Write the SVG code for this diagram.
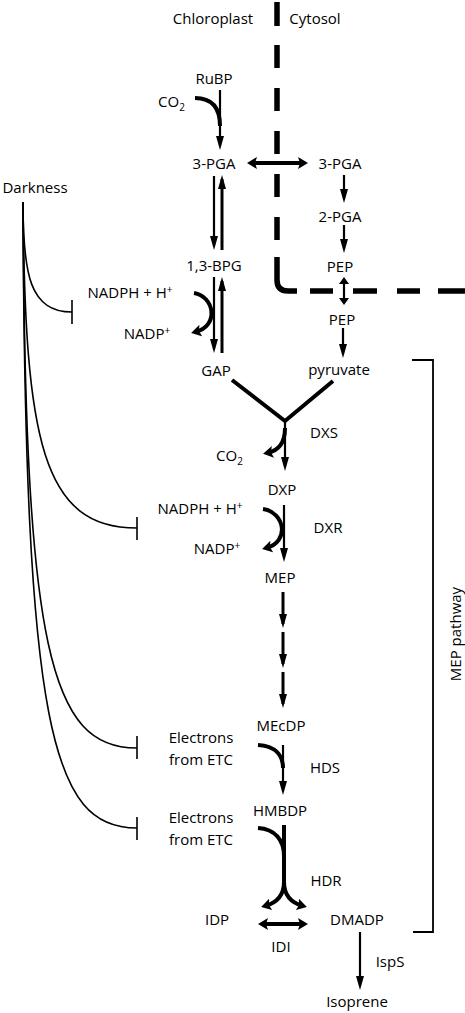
<svg xmlns="http://www.w3.org/2000/svg" width="465" height="1013" viewBox="0 0 465 1013">
<style>
text{font-family:"Open Sans","Noto Sans","Liberation Sans",sans-serif;font-size:15px;fill:#000}
.m{text-anchor:middle}
.sup{font-size:10px}
.ln{fill:none;stroke:#000;stroke-linecap:butt}
.t2{stroke-width:2.2}
.t3{stroke-width:3}
.t4{stroke-width:4}
.inh{fill:none;stroke:#000;stroke-width:1.6}
.mem{fill:none;stroke:#000;stroke-width:5.5}
</style>
<defs>
<marker id="a" viewBox="0 0 14 8" refX="10" refY="4" markerWidth="14" markerHeight="8" markerUnits="userSpaceOnUse" orient="auto-start-reverse"><path d="M0,0 L14,4 L0,8 z"/></marker>
<marker id="w" viewBox="0 0 10 12" refX="6" refY="6" markerWidth="10" markerHeight="12" markerUnits="userSpaceOnUse" orient="auto-start-reverse"><path d="M0,0 L10,6 L0,12 L2,6 z"/></marker>
<marker id="s" viewBox="0 0 7 10" refX="4" refY="5" markerWidth="7" markerHeight="10" markerUnits="userSpaceOnUse" orient="auto-start-reverse"><path d="M0,0 L7,5 L0,10 z"/></marker>
</defs>

<g id="membrane">
<path class="mem" d="M277,2V26M277,45V68M277,88V111M277,131V154M277,174V197M277,217V240M277,257V280Q277,291 288,291H297M310,291H333M353,291H377M397,291H420M438,291H465"/>
</g>

<g id="connectors">
<!-- RuBP to 3-PGA -->
<path class="ln t2" d="M220,90V146" marker-end="url(#a)"/>
<path class="ln t4" d="M195,98C212,98 220,108 220,126"/>
<!-- 3-PGA exchange -->
<path class="ln t4" d="M251,163H304" marker-start="url(#w)" marker-end="url(#w)"/>
<!-- 3-PGA <-> 1,3-BPG -->
<path class="ln t2" d="M214,176V246" marker-end="url(#a)"/>
<path class="ln t3" d="M222,250V179" marker-end="url(#a)"/>
<!-- 1,3-BPG <-> GAP -->
<path class="ln t2" d="M214,277V349" marker-end="url(#a)"/>
<path class="ln t3" d="M222,353V281" marker-end="url(#a)"/>
<path class="ln t4" d="M194,293C214,296 220,326 195,332" marker-end="url(#w)"/>
<!-- cytosol -->
<path class="ln t2" d="M344,175V199" marker-end="url(#a)"/>
<path class="ln t2" d="M344,225V249" marker-end="url(#a)"/>
<path class="ln t2" d="M344,280V302" marker-start="url(#s)" marker-end="url(#s)"/>
<path class="ln t2" d="M343,328V354" marker-end="url(#a)"/>
<!-- DXS -->
<path class="ln t4" d="M232,380L285,421L333,381"/>
<path class="ln t2" d="M285,421V467" marker-end="url(#a)"/>
<path class="ln t4" d="M285,428C285,443 278,451 267,453" marker-end="url(#w)"/>
<!-- DXR -->
<path class="ln t2" d="M284,505V558" marker-end="url(#a)"/>
<path class="ln t4" d="M263,509C285,512 290,542 266,548" marker-end="url(#w)"/>
<!-- MEP to MEcDP -->
<path class="ln t3" d="M283,592V624" marker-end="url(#a)"/>
<path class="ln t3" d="M283,632V664" marker-end="url(#a)"/>
<path class="ln t3" d="M283,672V704" marker-end="url(#a)"/>
<!-- HDS -->
<path class="ln t2" d="M283,745V791" marker-end="url(#a)"/>
<path class="ln t4" d="M258,745C275,746 283,755 283,768"/>
<!-- HDR -->
<path class="ln t4" d="M284,825V884"/>
<path class="ln t4" d="M258,828C275,829 284,840 284,856"/>
<path class="ln t4" d="M284,882C284,896 276,903 265,906" marker-end="url(#w)"/>
<path class="ln t4" d="M284,882C284,896 292,903 303,906" marker-end="url(#w)"/>
<!-- IDI -->
<path class="ln t4" d="M262,924H304" marker-start="url(#w)" marker-end="url(#w)"/>
<!-- IspS -->
<path class="ln t2" d="M360,932V986" marker-end="url(#a)"/>
<!-- MEP pathway bracket -->
<path class="ln" style="stroke-width:1.8" d="M412,360H433V932H413"/>
<!-- Darkness inhibitions -->
<path class="inh" d="M23,202C23,275 30,312 72,312"/>
<path class="inh" d="M72,300V324"/>
<path class="inh" d="M23,202C25,440 42,528 137,528"/>
<path class="inh" d="M137,517V540"/>
<path class="inh" d="M23,202C25,650 50,748 137,748"/>
<path class="inh" d="M137,736V759"/>
<path class="inh" d="M23,202C25,730 52,828 137,828"/>
<path class="inh" d="M137,817V840"/>
</g>

<g id="labels-compartments">
<text class="m" x="213" y="24">Chloroplast</text>
<text class="m" x="315" y="24">Cytosol</text>
</g>
<g id="node-rubp"><text class="m" x="214" y="84">RuBP</text></g>
<g id="node-co2-a"><text x="158" y="107">CO<tspan class="sup" dy="4">2</tspan></text></g>
<g id="node-3pga-c"><text class="m" x="214" y="169">3-PGA</text></g>
<g id="node-3pga-cyt"><text class="m" x="340" y="169">3-PGA</text></g>
<g id="node-2pga"><text class="m" x="340" y="222">2-PGA</text></g>
<g id="node-pep-a"><text class="m" x="340" y="272">PEP</text></g>
<g id="node-pep-b"><text class="m" x="342" y="325">PEP</text></g>
<g id="node-pyruvate"><text class="m" x="339" y="375">pyruvate</text></g>
<g id="node-darkness"><text class="m" x="35" y="193">Darkness</text></g>
<g id="node-13bpg"><text class="m" x="214" y="271">1,3-BPG</text></g>
<g id="node-nadph-a"><text class="m" x="130" y="298">NADPH + H<tspan class="sup" dy="-5">+</tspan></text></g>
<g id="node-nadp-a"><text class="m" x="147" y="339">NADP<tspan class="sup" dy="-5">+</tspan></text></g>
<g id="node-gap"><text class="m" x="216" y="376">GAP</text></g>
<g id="node-dxs"><text class="m" x="324" y="438">DXS</text></g>
<g id="node-co2-b"><text x="216" y="461">CO<tspan class="sup" dy="4">2</tspan></text></g>
<g id="node-dxp"><text class="m" x="282" y="495">DXP</text></g>
<g id="node-nadph-b"><text class="m" x="200" y="514">NADPH + H<tspan class="sup" dy="-5">+</tspan></text></g>
<g id="node-dxr"><text class="m" x="328" y="533">DXR</text></g>
<g id="node-nadp-b"><text class="m" x="217" y="554">NADP<tspan class="sup" dy="-5">+</tspan></text></g>
<g id="node-mep"><text class="m" x="280" y="583">MEP</text></g>
<g id="node-mecdp"><text class="m" x="281" y="731">MEcDP</text></g>
<g id="node-etc-a"><text class="m" x="201" y="743">Electrons</text><text class="m" x="201" y="765">from ETC</text></g>
<g id="node-hds"><text class="m" x="325" y="773">HDS</text></g>
<g id="node-hmbdp"><text class="m" x="280" y="816">HMBDP</text></g>
<g id="node-etc-b"><text class="m" x="201" y="823">Electrons</text><text class="m" x="201" y="845">from ETC</text></g>
<g id="node-hdr"><text class="m" x="326" y="886">HDR</text></g>
<g id="node-idp"><text class="m" x="217" y="925">IDP</text></g>
<g id="node-dmadp"><text class="m" x="357" y="925">DMADP</text></g>
<g id="node-idi"><text class="m" x="281" y="952">IDI</text></g>
<g id="node-isps"><text class="m" x="390" y="967">IspS</text></g>
<g id="node-isoprene"><text class="m" x="357" y="1007">Isoprene</text></g>
<g id="label-mep-pathway"><text class="m" transform="translate(461,634) rotate(-90)">MEP pathway</text></g>
</svg>
